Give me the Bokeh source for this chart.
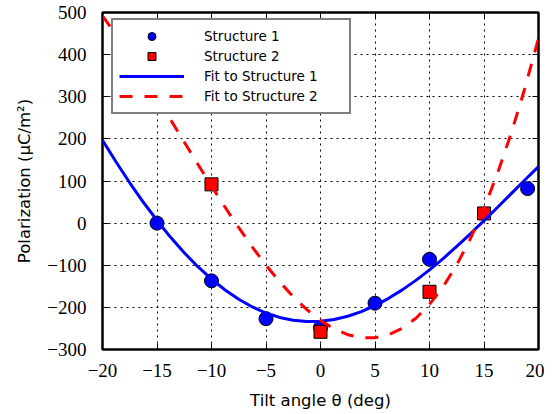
from bokeh.plotting import figure
from bokeh.models import Range1d, FixedTicker, LinearAxis, Legend, LegendItem
from bokeh.embed import file_html
from bokeh.resources import INLINE

# ---- data ----
s1_tilt = [-15, -10, -5, 0, 5, 10, 19]
s1_pol = [0, -137, -227, -248, -190, -86, 82]
s2_tilt = [-10, 0, 10, 15]
s2_pol = [92, -258, -163, 23]

# fitted curves
fit1_tilt = [-20, -18.75, -17.5, -16.25, -15, -13.75, -12.5, -11.25, -10, -8.75, -7.5, -6.25,
             -5, -3.75, -2.5, -1.25, 0, 1.25, 2.5, 3.75, 5, 6.25, 7.5, 8.75, 10, 11.25,
             12.5, 13.75, 15, 16.25, 17.5, 18.75, 20]
fit1_pol = [196.8, 145.0, 95.8, 49.5, 6.3, -33.8, -70.4, -103.5, -133.0, -158.8, -180.8, -199.0,
            -213.4, -223.9, -230.7, -233.7, -233.0, -228.7, -221.0, -209.9, -195.7, -178.5,
            -158.5, -135.9, -111.0, -84.1, -55.4, -25.3, 5.9, 37.8, 70.1, 102.3, 134.0]

fit2_tilt = fit1_tilt
fit2_pol = [492.2, 447.2, 399.4, 349.4, 297.9, 245.4, 192.5, 139.9, 88.0, 37.6, -10.9, -57.0,
            -99.9, -139.4, -174.7, -205.4, -231.0, -251.0, -264.8, -272.1, -272.2, -264.9,
            -249.5, -225.7, -193.0, -150.9, -99.1, -37.2, 35.4, 118.9, 213.7, 320.3, 439.0]

x_ticks = [-20, -15, -10, -5, 0, 5, 10, 15, 20]
x_tick_labels = ["\u221220", "\u221215", "\u221210", "\u22125", "0", "5", "10", "15", "20"]
y_ticks = [-300, -200, -100, 0, 100, 200, 300, 400, 500]
y_tick_labels = ["\u2212300", "\u2212200", "\u2212100", "0", "100", "200", "300", "400", "500"]

series_labels = ["Structure 1", "Structure 2", "Fit to Structure 1", "Fit to Structure 2"]
x_label = "Tilt angle \u03b8 (deg)"
y_label = "Polarization (\u03bcC/m\u00b2)"

# ---- figure ----
p = figure(frame_width=436, frame_height=337,
           x_range=Range1d(-20, 20), y_range=Range1d(-300, 500),
           output_backend="svg", toolbar_location=None,
           min_border_left=102, min_border_right=6, min_border_top=12, min_border_bottom=56)
p.background_fill_color = "white"
p.border_fill_color = "white"
p.outline_line_color = "black"
p.outline_line_width = 2.5

tick_font = "Liberation Serif"
for ax, ticks, labels in ((p.xaxis[0], x_ticks, x_tick_labels), (p.yaxis[0], y_ticks, y_tick_labels)):
    ax.ticker = FixedTicker(ticks=ticks)
    ax.major_label_overrides = {t: l for t, l in zip(ticks, labels)}
    ax.major_label_text_font = tick_font
    ax.major_label_text_font_size = "19px"
    ax.major_label_text_color = "black"
    ax.axis_line_color = None
    ax.major_tick_in = 6
    ax.major_tick_out = 0
    ax.major_tick_line_color = "black"
    ax.major_tick_line_width = 1
    ax.minor_tick_line_color = None
    ax.axis_label_text_font = "DejaVu Sans"
    ax.axis_label_text_font_size = "16.5px"
    ax.axis_label_text_font_style = "normal"
    ax.axis_label_text_color = "black"

p.xaxis[0].axis_label = x_label
p.yaxis[0].axis_label = y_label
p.xaxis[0].major_label_standoff = 14
p.yaxis[0].major_label_standoff = 16
p.xaxis[0].axis_label_standoff = 11
p.yaxis[0].axis_label_standoff = 10

for side, ticks in (("above", x_ticks), ("right", y_ticks)):
    ax = LinearAxis(ticker=FixedTicker(ticks=ticks))
    ax.major_label_text_font_size = "1px"
    ax.major_label_text_color = None
    ax.major_label_standoff = 0
    ax.axis_line_color = None
    ax.major_tick_in = 6
    ax.major_tick_out = 0
    ax.major_tick_line_color = "black"
    ax.minor_tick_line_color = None
    p.add_layout(ax, side)

p.xgrid.ticker = FixedTicker(ticks=x_ticks)
p.ygrid.ticker = FixedTicker(ticks=y_ticks)
for g in (p.xgrid, p.ygrid):
    g.grid_line_color = "black"
    g.grid_line_dash = "2 4"
    g.grid_line_width = 1

r1 = p.scatter(s1_tilt, s1_pol, marker="circle", size=14, fill_color="#0000ff",
               line_color="black", line_width=1)
r2 = p.scatter(s2_tilt, s2_pol, marker="square", size=13, fill_color="#ff0000",
               line_color="black", line_width=1)
r3 = p.line(fit1_tilt, fit1_pol, line_color="#0000ff", line_width=3)
r4 = p.line(fit2_tilt, fit2_pol, line_color="#ff0000", line_width=3, line_dash="13 12")

legend = Legend(items=[LegendItem(label=series_labels[0], renderers=[r1]),
                       LegendItem(label=series_labels[1], renderers=[r2]),
                       LegendItem(label=series_labels[2], renderers=[r3]),
                       LegendItem(label=series_labels[3], renderers=[r4])],
                location=(9, 235))
legend.margin = 0
legend.padding = 6
legend.spacing = 0
legend.glyph_height = 20
legend.glyph_width = 65
legend.label_height = 20
legend.label_standoff = 20
legend.label_width = 139
legend.label_text_font = "DejaVu Sans"
legend.label_text_font_size = "13.5px"
legend.label_text_color = "black"
legend.border_line_color = "black"
legend.border_line_width = 2
legend.background_fill_color = "white"
legend.background_fill_alpha = 1
p.add_layout(legend)

open("out.html", "w").write(file_html(p, INLINE))
